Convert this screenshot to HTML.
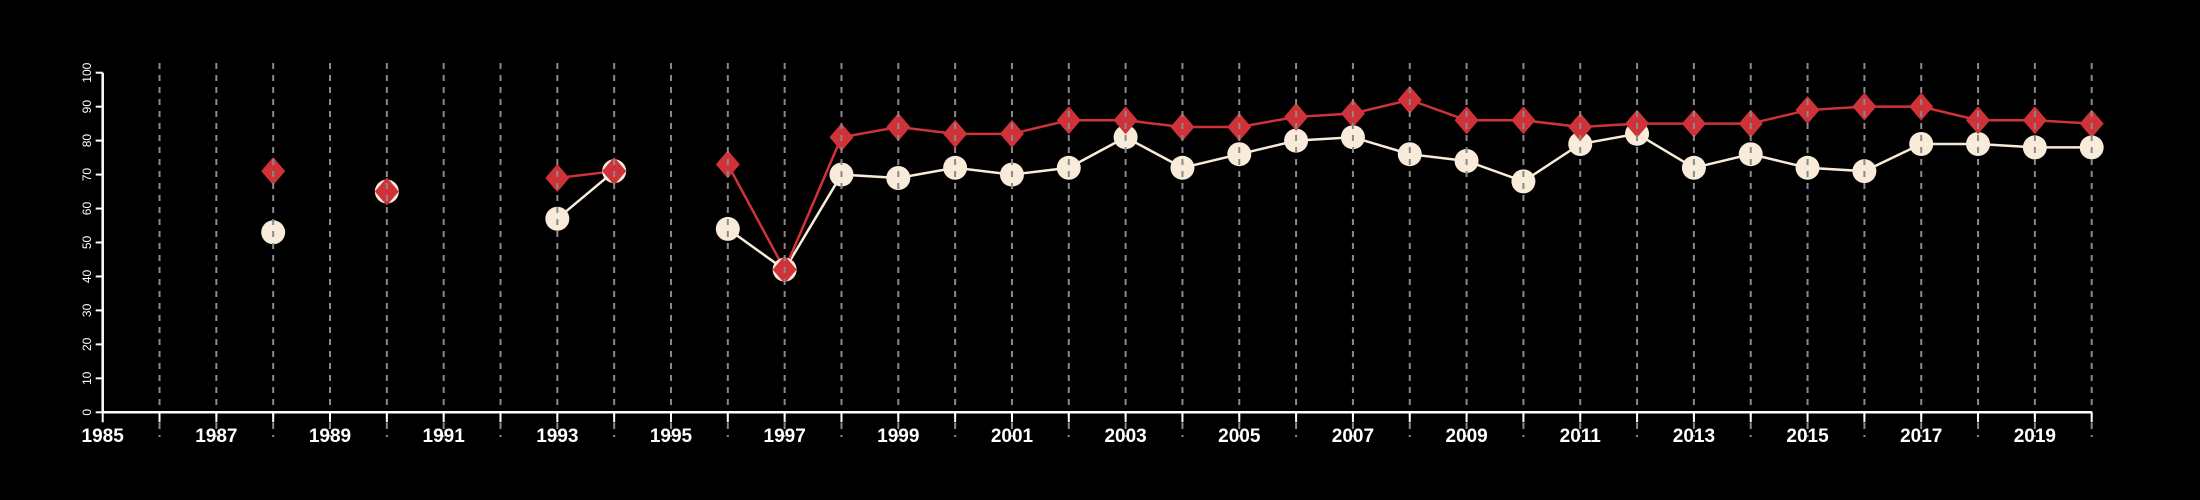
<!DOCTYPE html>
<html><head><meta charset="utf-8"><style>
html,body{margin:0;padding:0;background:#000;}
svg{display:block;}
</style></head><body>
<svg id="chart" width="2200" height="500" xmlns="http://www.w3.org/2000/svg" style="background:#000">
<g id="lines"></g><g id="marks"></g><g id="grid"></g><g id="axes"></g>
</svg>
<script>
const years = [1988,1990,1993,1994,1996,1997,1998,1999,2000,2001,2002,2003,2004,2005,2006,2007,2008,2009,2010,2011,2012,2013,2014,2015,2016,2017,2018,2019,2020];
const whiteSeries = [53,65,57,71,54,42,70,69,72,70,72,81,72,76,80,81,76,74,68,79,82,72,76,72,71,79,79,78,78];
const redSeries = [71,65,69,71,73,42,81,84,82,82,86,86,84,84,87,88,92,86,86,84,85,85,85,89,90,90,86,86,85];
const yTicks = [0,10,20,30,40,50,60,70,80,90,100];
const xTickLabels = [1985,1987,1989,1991,1993,1995,1997,1999,2001,2003,2005,2007,2009,2011,2013,2015,2017,2019];

const NS='http://www.w3.org/2000/svg';
const X0=102.7,X1=2091.7,Y0=412.3,Y1=72.7;
function xs(v){return X0+(v-1985)*(X1-X0)/35;}
function ys(v){return Y0-(v-0)*(Y0-Y1)/100;}
function mk(tag,attrs,parent){const e=document.createElementNS(NS,tag);for(const k in attrs)e.setAttribute(k,attrs[k]);parent.appendChild(e);return e;}
const gL=document.getElementById('lines'),gM=document.getElementById('marks'),gG=document.getElementById('grid'),gA=document.getElementById('axes');

function drawLine(vals,color,name){
  let seg=[];
  const flush=()=>{if(seg.length>1){const p=mk('polyline',{points:seg.join(' '),fill:'none',stroke:color,'stroke-width':2.5},gL);
    
    }seg=[];};
  for(let i=0;i<years.length;i++){
    if(i>0&&years[i]-years[i-1]!==1)flush();
    seg.push(xs(years[i])+','+ys(vals[i]));
  }
  flush();
}
drawLine(whiteSeries,'#f8ebd9','white-series-line');
drawLine(redSeries,'#d0323a','red-series-line');

for(let i=0;i<years.length;i++){
  const c=mk('circle',{cx:xs(years[i]),cy:ys(whiteSeries[i]),r:12,fill:'#f8ebd9'},gM);
  
  
}
for(let i=0;i<years.length;i++){
  const x=xs(years[i]),y=ys(redSeries[i]);
  const d=mk('polygon',{points:`${x},${y-14} ${x+12},${y} ${x},${y+14} ${x-12},${y}`,fill:'#d0323a'},gM);
  
  
}
for(let yr=1986;yr<=2020;yr++){
  const l=mk('line',{x1:xs(yr),x2:xs(yr),y1:63,y2:437,stroke:'#8a8a8a','stroke-width':2,'stroke-dasharray':'6,6'},gG);
  
  
}
const xa=mk('line',{x1:X0,x2:X1,y1:Y0,y2:Y0,stroke:'#fff','stroke-width':2.5},gA);


const ya=mk('line',{x1:X0,x2:X0,y1:Y0,y2:Y1,stroke:'#fff','stroke-width':2.5},gA);


for(let yr=1985;yr<=2020;yr++){
  const t=mk('line',{x1:xs(yr),x2:xs(yr),y1:Y0,y2:Y0+10,stroke:'#fff','stroke-width':2},gA);
  
  
}
xTickLabels.forEach(v=>{
  const t=mk('text',{x:xs(v),y:442,'text-anchor':'middle',fill:'#fff','font-family':'Liberation Sans, sans-serif','font-size':19,'font-weight':'bold'},gA);
  t.textContent=v;
  
  
});
yTicks.forEach(v=>{
  const t=mk('line',{x1:X0-7,x2:X0,y1:ys(v),y2:ys(v),stroke:'#fff','stroke-width':2},gA);
  
  
  const tx=mk('text',{x:0,y:0,transform:`translate(91,${ys(v)}) rotate(-90)`,'text-anchor':'middle',fill:'#fff','font-family':'Liberation Sans, sans-serif','font-size':12},gA);
  tx.textContent=v;
  
  
});
</script>
</body></html>
